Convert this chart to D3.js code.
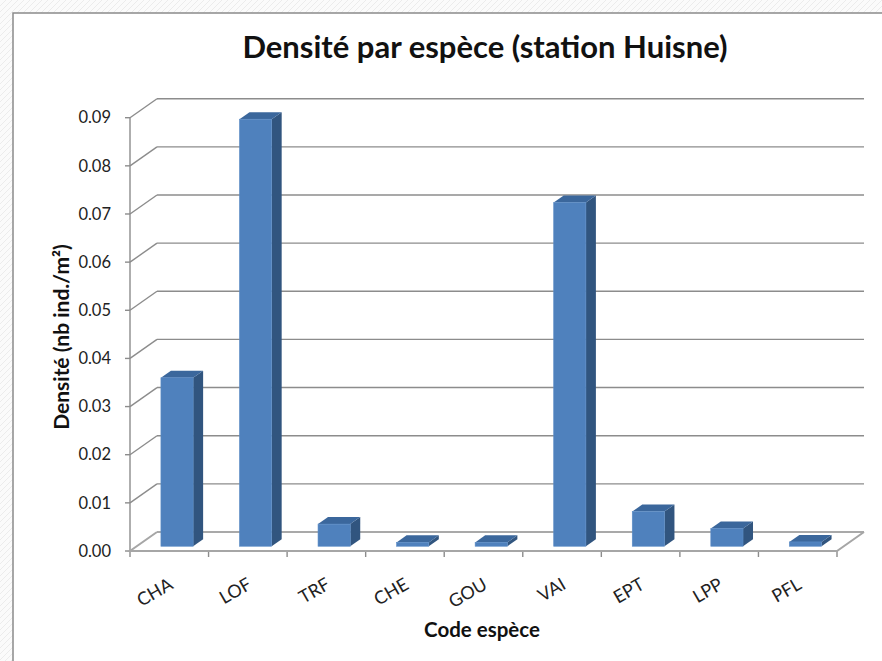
<!DOCTYPE html>
<html>
<head>
<meta charset="utf-8">
<script src="https://cdn.jsdelivr.net/npm/d3@7"></script>
<style>
  html, body { margin: 0; padding: 0; background: #fff; }
  svg { display: block; font-family: Lato, "Open Sans", sans-serif; }
</style>
</head>
<body>
<svg id="chart" width="882" height="661"></svg>
<script>
// données
const species = ["CHA", "LOF", "TRF", "CHE", "GOU", "VAI", "EPT", "LPP", "PFL"];
const density = [0.035, 0.0887, 0.0046, 0.0008, 0.0008, 0.0714, 0.0072, 0.0037, 0.0009];
const yTicks = [0, 0.01, 0.02, 0.03, 0.04, 0.05, 0.06, 0.07, 0.08, 0.09];

const svg = d3.select("#chart");

// fond quadrillé léger autour du cadre
const defs = svg.append("defs");
const pat = defs.append("pattern").attr("id", "bg").attr("width", 6).attr("height", 6)
  .attr("patternUnits", "userSpaceOnUse");
pat.append("rect").attr("width", 6).attr("height", 6).attr("fill", "#fbfbfb");
pat.append("path").attr("d", "M0,6 L6,0").attr("stroke", "#ececec").attr("stroke-width", 1);
svg.append("rect").attr("width", 882).attr("height", 661).attr("fill", "url(#bg)");

// cadre du graphique
svg.append("rect")
  .attr("x", 13).attr("y", 13).attr("width", 900).attr("height", 700)
  .attr("fill", "#fff").attr("stroke", "#8a8a8a").attr("stroke-width", 1.5);

const x0 = 130, x1 = 837;
const depth = {dx: 27, dy: -19};
const x = d3.scaleBand().domain(species).range([x0, x1]).padding(0);
const y = d3.scaleLinear().domain([0, 0.09]).range([551, 117.7]);
const at = (px, py, f) => [px + f * depth.dx, py + f * depth.dy];

const grid = svg.append("g").attr("stroke", "#8c8c8c").attr("stroke-width", 1.4).attr("fill", "none");

// lignes de la paroi arrière + diagonales de la paroi gauche
yTicks.forEach(t => {
  const yf = y(t);
  const [bx, by] = at(x0, yf, 1);
  const [ex] = at(x1, yf, 1);
  grid.append("path").attr("d", `M${bx},${by}H${ex}`);
  if (t > 0) grid.append("path").attr("d", `M${x0},${yf}L${bx},${by}`);
  grid.append("path").attr("d", `M${x0 - 5},${yf}H${x0}`);
});

// axe vertical avant
grid.append("path").attr("d", `M${x0},${y(0.09)}V${y(0)}`);

// plancher : bord avant + bord droit + diagonale gauche
const [fbx, fby] = at(x0, y(0), 1);
const [frx, fry] = at(x1, y(0), 1);
svg.append("path")
  .attr("d", `M${fbx},${fby}L${x0},${y(0)}H${x1}L${frx},${fry}`)
  .attr("fill", "none").attr("stroke", "#a6a6a6").attr("stroke-width", 2);

// graduations de catégories
species.concat([null]).forEach(s => {
  const px = s ? x(s) : x1;
  grid.append("path").attr("d", `M${px},${y(0)}V${y(0) + 6}`);
});

// libellés de l'axe Y
svg.append("g").selectAll("text").data(yTicks).join("text")
  .attr("x", 111).attr("y", d => y(d))
  .attr("dy", "0.35em").attr("text-anchor", "end")
  .attr("font-size", 16.5).attr("fill", "#222")
  .text(d => d.toFixed(2));

// barres 3D
const fFront = 0.25, fDepth = 0.37;
const bw = x.bandwidth() * 0.41;
const bars = svg.append("g");
species.forEach((s, i) => {
  const v = density[i];
  const left = x(s) + (x.bandwidth() - bw) / 2 + 1;
  const [lx, ty] = at(left, y(v), fFront);
  const [, by] = at(left, y(0), fFront);
  const rx = lx + bw;
  const ddx = fDepth * depth.dx, ddy = fDepth * depth.dy;
  const g = bars.append("g");
  // côté
  g.append("path")
    .attr("d", `M${rx},${ty}L${rx + ddx},${ty + ddy}V${by + ddy}L${rx},${by}Z`)
    .attr("fill", "#31557f");
  // dessus
  g.append("path")
    .attr("d", `M${lx},${ty}L${lx + ddx},${ty + ddy}H${rx + ddx}L${rx},${ty}Z`)
    .attr("fill", "#3b679c");
  // face avant
  g.append("rect")
    .attr("x", lx).attr("y", ty).attr("width", bw).attr("height", by - ty)
    .attr("fill", "#4f81bd").attr("stroke", "#5b8cc6").attr("stroke-width", 0.6);
});

// libellés de l'axe X
svg.append("g").selectAll("text").data(species).join("text")
  .attr("transform", d => `translate(${x(d) + x.bandwidth() / 2 + 5},${588}) rotate(-30)`)
  .attr("text-anchor", "end")
  .attr("font-size", 18).attr("fill", "#222")
  .text(d => d);

// titres
svg.append("text")
  .attr("x", 485).attr("y", 58).attr("text-anchor", "middle")
  .attr("font-size", 31).attr("font-weight", "bold").attr("fill", "#111")
  .text("Densité par espèce (station Huisne)");

svg.append("text")
  .attr("x", 482).attr("y", 637).attr("text-anchor", "middle")
  .attr("font-size", 20.5).attr("font-weight", "bold").attr("fill", "#111")
  .text("Code espèce");

svg.append("text")
  .attr("transform", "translate(69,337) rotate(-90)")
  .attr("text-anchor", "middle")
  .attr("font-size", 21).attr("font-weight", "bold").attr("fill", "#111")
  .text("Densité (nb ind./m²)");
</script>
</body>
</html>
